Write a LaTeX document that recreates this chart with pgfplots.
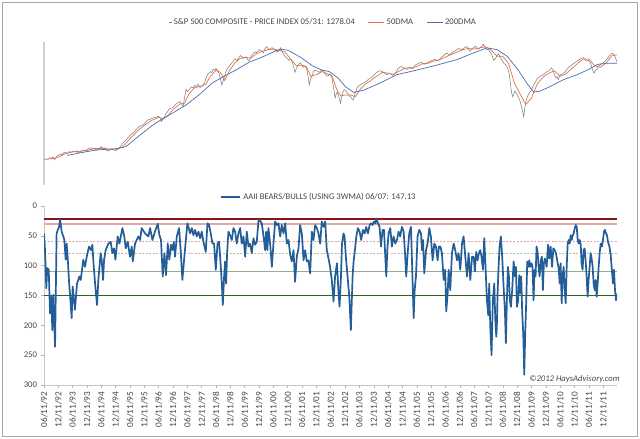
\documentclass[border=0pt]{standalone}
\usepackage{fontspec}
\setmainfont{Carlito}
\usepackage{pgfplots}
\pgfplotsset{compat=1.18}
\definecolor{price}{RGB}{128,128,128}
\definecolor{dmaA}{RGB}{228,112,66}
\definecolor{dmaB}{RGB}{72,108,178}
\definecolor{aaii}{RGB}{36,94,152}
\definecolor{refdr}{RGB}{140,20,20}
\definecolor{refpk}{RGB}{218,170,170}
\definecolor{refdp}{RGB}{222,165,165}
\definecolor{refdg}{RGB}{185,188,160}
\definecolor{refgg}{RGB}{150,172,140}
\definecolor{refgr}{RGB}{46,100,28}
\definecolor{txt}{RGB}{70,70,70}
\begin{document}
\begin{tikzpicture}[x=1bp,y=1bp]
\useasboundingbox (0,0) rectangle (640,439);
\draw[gray!70, line width=0.9bp] (2,3) rectangle (637,437);
% ---------------- top chart ----------------
\begin{axis}[at={(44bp,254bp)}, anchor=south west, scale only axis,
  width=573bp, height=143.3bp, xmin=0, xmax=39.96,
  ymode=log, ymin=307, ymax=1612,
  axis x line=none, axis y line*=left,
  y axis line style={-, gray!35, line width=1.2bp},
  xtick=\empty, ytick=\empty, clip=false,
  legend style={at={(0.487,1.1375)}, anchor=center, draw=none, fill=none,
    font=\fontsize{8.7}{10}\selectfont, text=txt, legend columns=3,
    /tikz/every even column/.append style={column sep=11bp}},
  legend cell align=left]
\addplot[price, line width=0.55bp, legend image code/.code={\draw[price, line width=0.8bp] (-3bp,0bp) -- (0bp,0bp);}] coordinates {
(0.00,410)(0.12,416)(0.25,412)(0.38,421)(0.5,418)(0.62,425)(0.75,412)(0.88,428)(1.0,432)(1.12,440)(1.25,436)(1.38,446)(1.5,447)(1.62,442)(1.75,452)(1.88,448)(2.0,454)(2.12,450)(2.25,456)(2.38,446)(2.5,450)(2.62,457)(2.75,460)(2.88,455)(3.0,463)(3.12,470)(3.25,472)(3.38,466)(3.5,470)(3.62,458)(3.75,462)(3.88,470)(4.0,478)(4.12,468)(4.25,472)(4.38,458)(4.5,455)(4.62,462)(4.75,466)(4.88,460)(5.0,458)(5.12,462)(5.25,472)(5.38,485)(5.5,498)(5.62,508)(5.75,520)(5.88,532)(6.0,544)(6.12,555)(6.25,562)(6.38,578)(6.5,590)(6.62,600)(6.75,610)(6.88,615)(7.0,622)(7.12,640)(7.25,652)(7.38,655)(7.5,662)(7.62,668)(7.75,672)(7.88,676)(8.0,680)(8.1,665)(8.2,640)(8.3,660)(8.4,672)(8.5,700)(8.62,718)(8.75,742)(8.88,748)(9.0,756)(9.12,772)(9.25,790)(9.38,796)(9.5,805)(9.6,780)(9.7,760)(9.8,840)(9.9,930)(10.0,905)(10.1,918)(10.2,940)(10.3,956)(10.4,945)(10.5,972)(10.62,960)(10.75,985)(10.88,948)(11.0,962)(11.1,975)(11.2,1002)(11.3,1060)(11.4,1100)(11.5,1118)(11.6,1140)(11.7,1128)(11.8,1172)(11.9,1160)(12.0,1182)(12.1,1150)(12.2,1120)(12.3,1050)(12.4,975)(12.45,1010)(12.5,1025)(12.6,1090)(12.7,1150)(12.8,1180)(12.9,1210)(13.0,1238)(13.1,1262)(13.2,1290)(13.3,1322)(13.4,1300)(13.5,1312)(13.6,1345)(13.7,1372)(13.8,1355)(13.9,1330)(14.0,1342)(14.1,1352)(14.2,1310)(14.3,1290)(14.4,1330)(14.5,1382)(14.6,1410)(14.7,1432)(14.8,1420)(14.9,1442)(15.0,1468)(15.1,1458)(15.2,1440)(15.3,1418)(15.4,1480)(15.5,1522)(15.6,1500)(15.7,1468)(15.8,1488)(15.9,1505)(16.0,1480)(16.1,1462)(16.2,1452)(16.3,1430)(16.4,1470)(16.5,1502)(16.6,1440)(16.7,1400)(16.8,1360)(16.9,1340)(17.0,1320)(17.1,1300)(17.2,1320)(17.3,1280)(17.4,1210)(17.5,1130)(17.6,1180)(17.7,1222)(17.8,1248)(17.9,1262)(18.0,1220)(18.1,1200)(18.2,1210)(18.3,1190)(18.4,1100)(18.5,980)(18.6,1050)(18.7,1090)(18.8,1140)(18.9,1158)(19.0,1150)(19.1,1145)(19.2,1130)(19.3,1150)(19.4,1162)(19.5,1140)(19.6,1110)(19.7,1090)(19.8,1080)(19.9,1110)(20.0,1100)(20.08,1060)(20.15,990)(20.22,920)(20.3,840)(20.38,880)(20.45,900)(20.55,860)(20.62,820)(20.68,790)(20.76,850)(20.85,900)(20.93,925)(21.0,918)(21.1,900)(21.2,880)(21.3,860)(21.4,850)(21.48,830)(21.55,820)(21.62,850)(21.7,890)(21.8,930)(21.9,960)(22.0,975)(22.1,982)(22.2,995)(22.3,1000)(22.4,1012)(22.5,1022)(22.6,1040)(22.7,1052)(22.8,1060)(22.9,1072)(23.0,1090)(23.1,1112)(23.2,1130)(23.3,1142)(23.4,1148)(23.5,1152)(23.6,1140)(23.7,1128)(23.8,1115)(23.9,1100)(24.0,1108)(24.1,1120)(24.2,1105)(24.3,1090)(24.4,1105)(24.5,1122)(24.6,1150)(24.7,1182)(24.8,1195)(24.9,1210)(25.0,1198)(25.1,1190)(25.2,1180)(25.3,1170)(25.4,1188)(25.5,1200)(25.6,1192)(25.7,1180)(25.8,1205)(25.9,1230)(26.0,1240)(26.1,1252)(26.2,1262)(26.3,1272)(26.4,1255)(26.5,1240)(26.6,1250)(26.7,1262)(26.8,1270)(26.9,1282)(27.0,1292)(27.1,1302)(27.2,1312)(27.3,1310)(27.4,1298)(27.5,1290)(27.6,1318)(27.7,1342)(27.8,1360)(27.9,1382)(28.0,1400)(28.1,1412)(28.2,1395)(28.3,1380)(28.4,1405)(28.5,1430)(28.6,1440)(28.7,1452)(28.8,1470)(28.9,1490)(29.0,1480)(29.1,1470)(29.2,1485)(29.3,1502)(29.4,1512)(29.5,1522)(29.6,1480)(29.7,1440)(29.8,1465)(29.9,1490)(30.0,1512)(30.1,1530)(30.2,1500)(30.3,1480)(30.4,1500)(30.5,1522)(30.58,1545)(30.66,1565)(30.73,1520)(30.8,1480)(30.9,1470)(31.0,1470)(31.1,1430)(31.2,1400)(31.28,1350)(31.36,1300)(31.43,1320)(31.5,1332)(31.6,1370)(31.7,1402)(31.8,1360)(31.9,1310)(32.0,1280)(32.1,1250)(32.2,1230)(32.3,1200)(32.38,1160)(32.45,1100)(32.52,1000)(32.6,900)(32.65,870)(32.7,850)(32.78,890)(32.85,910)(32.92,890)(33.0,870)(33.1,840)(33.2,810)(33.3,760)(33.38,720)(33.45,677)(33.52,740)(33.6,800)(33.7,850)(33.8,880)(33.9,900)(34.0,922)(34.1,960)(34.2,990)(34.3,1020)(34.4,1050)(34.5,1065)(34.6,1080)(34.7,1092)(34.8,1100)(34.9,1110)(35.0,1130)(35.1,1142)(35.2,1150)(35.3,1170)(35.4,1190)(35.48,1160)(35.55,1130)(35.62,1090)(35.7,1060)(35.78,1075)(35.85,1040)(35.92,1070)(36.0,1100)(36.1,1108)(36.2,1110)(36.3,1130)(36.4,1150)(36.5,1178)(36.6,1200)(36.7,1215)(36.8,1230)(36.9,1245)(37.0,1260)(37.1,1275)(37.2,1290)(37.3,1305)(37.4,1320)(37.5,1332)(37.6,1340)(37.7,1315)(37.8,1290)(37.9,1295)(38.0,1300)(38.1,1260)(38.2,1200)(38.28,1150)(38.35,1120)(38.42,1145)(38.5,1160)(38.6,1190)(38.7,1220)(38.8,1238)(38.9,1250)(39.0,1262)(39.1,1280)(39.2,1305)(39.3,1330)(39.4,1362)(39.5,1390)(39.58,1402)(39.65,1410)(39.72,1395)(39.8,1370)(39.88,1320)(39.96,1278)
};
\addlegendentry{S\&P 500 COMPOSITE - PRICE INDEX 05/31: 1278.04}
\addplot[dmaA, line width=0.7bp, legend image code/.code={\draw[dmaA, line width=0.8bp] (0bp,0bp) -- (16bp,0bp);}] coordinates {
(0.35,414)(0.75,418)(1.0,424)(1.5,442)(2.0,450)(2.5,453)(3.0,458)(3.5,468)(4.0,468)(4.5,466)(5.0,460)(5.5,478)(6.0,525)(6.5,572)(7.0,612)(7.5,648)(8.0,672)(8.3,662)(8.6,680)(9.0,735)(9.5,785)(9.8,790)(10.1,880)(10.5,945)(11.0,968)(11.3,985)(11.6,1080)(12.0,1160)(12.3,1130)(12.6,1030)(12.9,1140)(13.3,1260)(13.7,1330)(14.1,1345)(14.4,1330)(14.8,1400)(15.2,1440)(15.6,1470)(16.0,1480)(16.4,1460)(16.8,1430)(17.2,1320)(17.6,1220)(18.0,1230)(18.3,1210)(18.6,1080)(19.0,1100)(19.4,1140)(19.8,1110)(20.1,1080)(20.4,930)(20.7,860)(21.0,870)(21.4,870)(21.7,850)(22.0,920)(22.4,985)(22.8,1030)(23.2,1080)(23.6,1130)(24.0,1120)(24.4,1105)(24.8,1150)(25.2,1190)(25.6,1185)(26.0,1210)(26.4,1250)(26.8,1255)(27.2,1290)(27.6,1310)(28.0,1350)(28.4,1390)(28.8,1430)(29.2,1470)(29.6,1490)(30.0,1480)(30.4,1500)(30.8,1520)(31.2,1460)(31.6,1360)(32.0,1360)(32.4,1250)(32.8,1000)(33.2,880)(33.6,780)(34.0,840)(34.4,990)(34.8,1070)(35.2,1120)(35.6,1150)(36.0,1080)(36.4,1110)(36.8,1180)(37.2,1250)(37.6,1320)(38.0,1320)(38.4,1220)(38.8,1200)(39.2,1260)(39.6,1370)(39.96,1385)
};
\addlegendentry{50DMA}
\addplot[dmaB, line width=0.7bp, legend image code/.code={\draw[dmaB, line width=0.8bp] (0bp,0bp) -- (16bp,0bp);}] coordinates {
(1.6,432)(2.5,445)(3.6,460)(5.0,467)(5.7,478)(6.6,540)(7.56,612)(8.26,660)(9.2,722)(9.88,772)(10.8,870)(11.74,1000)(12.45,1070)(13.37,1160)(14.3,1270)(15.23,1350)(16.16,1450)(16.6,1475)(17.0,1460)(17.33,1420)(18.0,1330)(18.7,1220)(19.4,1160)(19.9,1140)(20.5,1060)(21.0,960)(21.6,896)(22.3,920)(23.45,1000)(24.6,1100)(26.0,1160)(27.4,1230)(28.8,1310)(30.0,1420)(30.9,1500)(31.6,1470)(32.3,1360)(33.0,1180)(33.7,990)(34.15,900)(34.6,910)(35.3,960)(36.24,1040)(37.17,1100)(38.0,1170)(38.6,1240)(39.26,1255)(39.96,1255)
};
\addlegendentry{200DMA}
\end{axis}
% ---------------- bottom chart ----------------
\begin{axis}[at={(44bp,54bp)}, anchor=south west, scale only axis,
  width=573bp, height=179bp, xmin=0, xmax=39.96,
  ymin=0, ymax=300, y dir=reverse,
  axis x line*=bottom, axis y line*=left,
  axis line style={-, gray!45, line width=0.9bp},
  tick style={gray!60, line width=0.6bp}, tick align=outside,
  major tick length=3.5bp,
  xtick={0,...,39},
  xticklabels={06/11/92,12/11/92,06/11/93,12/11/93,06/11/94,12/11/94,06/11/95,12/11/95,06/11/96,12/11/96,06/11/97,12/11/97,06/11/98,12/11/98,06/11/99,12/11/99,06/11/00,12/11/00,06/11/01,12/11/01,06/11/02,12/11/02,06/11/03,12/11/03,06/11/04,12/11/04,06/11/05,12/11/05,06/11/06,12/11/06,06/11/07,12/11/07,06/11/08,12/11/08,06/11/09,12/11/09,06/11/10,12/11/10,06/11/11,12/11/11},
  xticklabel style={rotate=90, anchor=east, text=txt, font=\fontsize{9.3}{10}\selectfont},
  ytick={0,50,...,300},
  yticklabel style={text=txt, font=\fontsize{8.7}{10}\selectfont},
  /pgf/number format/assume math mode=true,
  legend style={at={(0.48,1.05)}, anchor=center, draw=none, fill=none,
    font=\fontsize{8.7}{10}\selectfont, text=txt},
  legend cell align=left]
\addplot[refdr, line width=1.6bp, forget plot] coordinates {(0,22)(39.96,22)};
\addplot[refpk, line width=1.6bp, forget plot] coordinates {(0,30)(39.96,30)};
\addplot[refdp, line width=1bp, dash pattern=on 2bp off 1.5bp, forget plot] coordinates {(0,60)(39.96,60)};
\addplot[refdg, line width=1bp, dash pattern=on 2bp off 1.5bp, forget plot] coordinates {(0,80)(39.96,80)};
\addplot[refgg, line width=0.9bp, forget plot] coordinates {(0,110)(39.96,110)};
\addplot[refgr, line width=1.4bp, forget plot] coordinates {(0,150)(39.96,150)};
\addplot[aaii, line width=1.7bp, line join=round, legend image code/.code={\draw[aaii, line width=2bp] (0bp,0bp) -- (19bp,0bp);}] coordinates {
(0,46)(0.07,74)(0.16,138)(0.23,104)(0.33,107)(0.42,180)(0.51,152)(0.58,208)(0.65,149)(0.77,236)(0.88,46)(0.95,41)(1.05,35)(1.12,22)(1.23,43)(1.35,51)(1.42,57)(1.51,90)(1.58,63)(1.65,85)(1.74,124)(1.84,157)(1.93,188)(2.0,135)(2.09,157)(2.16,174)(2.3,130)(2.47,118)(2.56,124)(2.74,90)(2.86,102)(2.98,85)(3.14,68)(3.28,74)(3.37,65)(3.47,102)(3.58,135)(3.70,166)(3.79,124)(3.95,79)(4.02,90)(4.12,124)(4.19,90)(4.30,74)(4.49,63)(4.65,60)(4.77,79)(4.88,71)(4.98,90)(5.14,51)(5.26,63)(5.47,37)(5.60,51)(5.70,71)(5.84,60)(6.0,85)(6.12,68)(6.19,93)(6.35,63)(6.58,51)(6.70,57)(6.81,37)(7.05,46)(7.28,51)(7.40,37)(7.56,57)(7.74,43)(7.93,30)(8.05,49)(8.16,57)(8.28,118)(8.40,79)(8.51,116)(8.63,63)(8.74,90)(8.86,65)(8.95,74)(9.05,60)(9.14,85)(9.26,51)(9.42,37)(9.53,74)(9.65,124)(9.77,90)(10.0,29)
(10.07,35)(10.19,46)(10.31,37)(10.42,49)(10.54,40)(10.65,51)(10.77,43)(10.89,54)(11.00,43)(11.12,60)(11.28,77)(11.40,29)(11.51,32)(11.63,46)(11.75,63)(11.86,63)(11.98,107)(12.10,63)(12.21,60)(12.33,102)(12.40,130)(12.47,166)(12.56,118)(12.63,93)(12.70,130)(12.77,79)(12.86,43)(12.98,49)(13.10,57)(13.21,37)(13.33,43)(13.44,63)(13.56,46)(13.68,37)(13.79,63)(13.91,51)(14.03,85)(14.14,43)(14.26,68)(14.37,63)(14.49,79)(14.61,54)(14.72,65)(14.84,60)(14.96,23)(15.07,25)(15.19,29)(15.31,51)(15.42,74)(15.49,43)(15.58,74)(15.65,37)(15.77,63)(15.89,102)(16.00,63)(16.12,26)(16.24,32)(16.35,29)(16.47,51)(16.58,32)(16.70,46)(16.82,29)(16.93,63)(17.05,57)(17.17,82)(17.28,93)(17.40,74)(17.51,127)(17.63,85)(17.75,71)(17.86,32)(17.98,46)(18.10,91)(18.21,74)(18.33,93)(18.44,91)(18.56,113)(18.68,43)(18.79,57)(18.91,32)(19.03,37)(19.14,46)(19.26,63)(19.37,26)(19.49,35)(19.61,26)(19.72,74)(19.84,88)(19.95,102)(20.07,124)(20.19,160)(20.30,118)
(20.43,96)(20.54,146)(20.61,169)(20.71,118)(20.78,63)(20.89,46)(20.96,51)(21.05,85)(21.17,118)(21.29,152)(21.40,208)(21.52,118)(21.59,93)(21.66,79)(21.78,51)(21.89,37)(22.01,43)(22.12,57)(22.24,40)(22.36,46)(22.47,35)(22.59,46)(22.71,32)(22.82,29)(22.91,32)(23.01,26)(23.10,29)(23.19,21)(23.29,29)(23.40,35)(23.50,68)(23.61,40)(23.71,40)(23.80,85)(23.87,118)(23.94,74)(24.03,46)(24.15,37)(24.26,68)(24.38,51)(24.50,63)(24.61,57)(24.73,43)(24.84,51)(24.96,35)(25.08,43)(25.19,85)(25.26,118)(25.36,79)(25.47,46)(25.59,35)(25.71,130)(25.78,188)(25.85,141)(25.94,118)(26.05,51)(26.17,40)(26.29,46)(26.36,74)(26.43,57)(26.52,113)(26.64,74)(26.75,63)(26.87,37)(26.98,51)(27.10,91)(27.22,63)(27.33,68)(27.45,91)(27.54,68)(27.64,68)(27.75,79)(27.87,124)(27.98,107)(28.05,177)(28.15,146)(28.22,107)(28.33,141)(28.45,79)(28.57,63)(28.68,74)(28.80,91)(28.91,79)(29.03,107)(29.15,63)(29.26,51)(29.38,85)(29.50,118)(29.61,79)(29.73,124)(29.85,85)
(29.96,85)(30.05,110)(30.14,77)(30.24,91)(30.33,79)(30.42,74)(30.51,85)(30.61,107)(30.70,54)(30.79,102)(30.89,158)(30.98,183)(31.05,130)(31.12,202)(31.21,250)(31.30,158)(31.40,130)(31.47,191)(31.54,219)(31.58,202)(31.63,146)(31.70,102)(31.77,68)(31.86,51)(31.96,88)(32.05,135)(32.14,174)(32.21,230)(32.28,158)(32.35,102)(32.42,118)(32.49,158)(32.56,169)(32.65,141)(32.75,93)(32.84,118)(32.91,102)(32.98,169)(33.07,158)(33.14,116)(33.21,146)(33.28,118)(33.35,180)(33.42,213)(33.49,283)(33.56,213)(33.63,158)(33.70,93)(33.77,102)(33.84,91)(33.91,102)(34.00,96)(34.07,102)(34.14,158)(34.21,107)(34.28,118)(34.35,68)(34.42,77)(34.49,102)(34.56,118)(34.65,91)(34.72,85)(34.79,141)(34.86,96)(34.93,88)
(35.05,102)(35.15,65)(35.24,88)(35.33,68)(35.43,102)(35.52,71)(35.61,74)(35.70,79)(35.80,93)(35.89,104)(35.96,130)(36.03,96)(36.10,163)(36.17,116)(36.24,102)(36.31,141)(36.38,163)(36.45,102)(36.52,63)(36.59,57)(36.66,63)(36.73,49)(36.80,57)(36.87,49)(36.94,46)(37.01,37)(37.08,32)(37.15,35)(37.22,57)(37.29,63)(37.36,57)(37.43,65)(37.49,96)(37.56,107)(37.63,74)(37.70,71)(37.77,91)(37.84,118)(37.91,152)(37.98,124)(38.05,102)(38.12,79)(38.19,88)(38.26,102)(38.33,130)(38.40,141)(38.47,124)(38.54,152)(38.61,130)(38.68,102)(38.75,79)(38.82,63)(38.91,68)(38.98,57)(39.05,43)(39.12,40)(39.19,46)(39.26,49)(39.33,60)(39.43,68)(39.52,82)(39.61,110)(39.68,130)(39.75,107)(39.82,141)(39.89,158)(39.96,147.13)
};
\addlegendentry{AAII BEARS/BULLS (USING 3WMA) 06/07: 147.13}
\end{axis}
\node[anchor=base east, font=\itshape\fontsize{8.7}{10}\selectfont, text=txt, inner sep=0pt] at (620,57) {\textcopyright 2012 HaysAdvisory.com};
\end{tikzpicture}
\end{document}
